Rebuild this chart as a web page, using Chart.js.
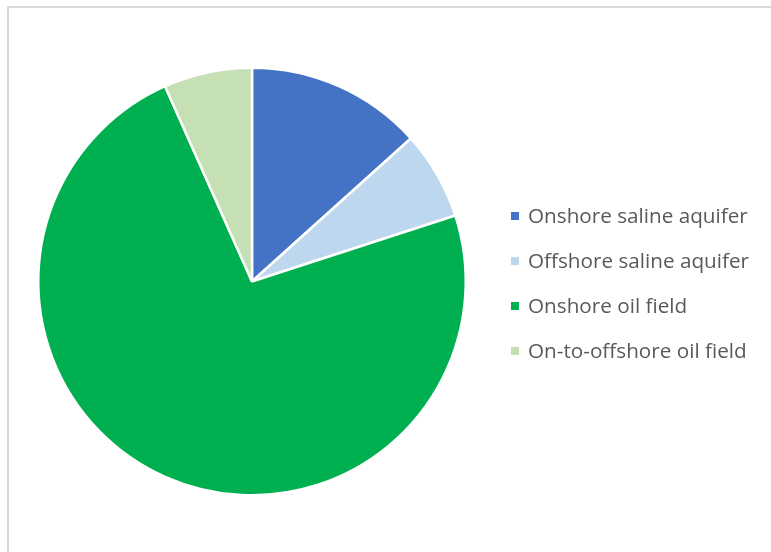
<!DOCTYPE html>
<html>
<head>
<meta charset="utf-8">
<script src="https://cdn.jsdelivr.net/npm/chart.js@4.4.0/dist/chart.umd.min.js"></script>
<style>
  html, body { margin: 0; padding: 0; background: #fff; }
  #wrap { position: relative; width: 771px; height: 552px; overflow: hidden; background: #fff; }
  #frame { position: absolute; left: 7px; top: 6px; width: 900px; height: 700px;
           border-left: 2px solid #d9d9d9; border-top: 2px solid #d9d9d9; box-sizing: border-box; }
  #c { position: absolute; left: 0; top: 0; }
  #legend { position: absolute; left: 511px; top: 0; font-family: "Open Sans", "Liberation Sans", sans-serif;
            font-size: 20.7px; color: #595959; }
  .item { position: absolute; left: 0; white-space: nowrap; height: 30px; line-height: 30px; }
  .box { position: absolute; left: 0; top: 12px; width: 8px; height: 8px; }
  .txt { position: absolute; left: 17px; top: 0; }
</style>
</head>
<body>
<div id="wrap">
  <div id="frame"></div>
  <canvas id="c" width="771" height="552"></canvas>
  <div id="legend"></div>
</div>
<script>
const categories = ["Onshore saline aquifer", "Offshore saline aquifer", "Onshore oil field", "On-to-offshore oil field"];
const values = [2, 1, 11, 1];
const colors = ["#4472C4", "#BDD7EE", "#00B050", "#C5E0B4"];

new Chart(document.getElementById('c'), {
  type: 'pie',
  data: {
    labels: categories,
    datasets: [{
      data: values,
      backgroundColor: colors,
      borderColor: '#ffffff',
      borderWidth: 2.5
    }]
  },
  options: {
    responsive: false,
    animation: false,
    layout: { padding: { left: 37, right: 304, top: 66, bottom: 55 } },
    plugins: { legend: { display: false }, tooltip: { enabled: false } }
  }
});

const legend = document.getElementById('legend');
const rowCenters = [215, 260, 305, 350];
categories.forEach((name, i) => {
  const item = document.createElement('div');
  item.className = 'item';
  item.style.top = (rowCenters[i] - 15) + 'px';
  const box = document.createElement('div');
  box.className = 'box';
  box.style.background = colors[i];
  const t = document.createElement('span');
  t.className = 'txt';
  t.textContent = name;
  item.appendChild(box);
  item.appendChild(t);
  legend.appendChild(item);
});
</script>
</body>
</html>
